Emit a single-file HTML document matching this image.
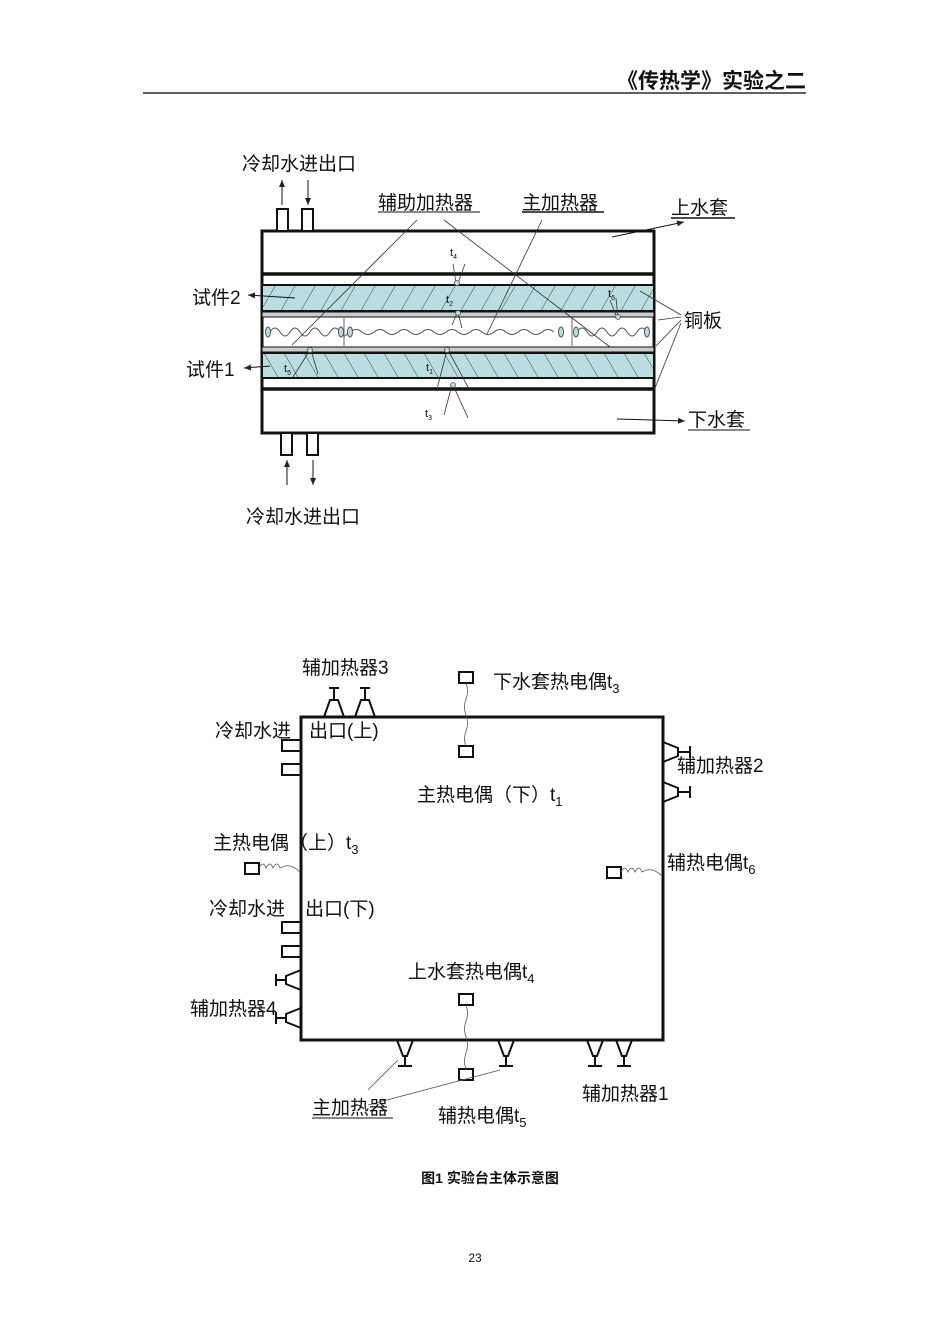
<!DOCTYPE html>
<html><head><meta charset="utf-8"><style>
body{margin:0;background:#fff;}
svg{display:block;}
text{font-family:"Liberation Sans","Noto Sans CJK SC",sans-serif;fill:#111;}
</style></head><body>
<svg width="950" height="1344" viewBox="0 0 950 1344" xmlns="http://www.w3.org/2000/svg">
<defs>
<pattern id="h1" patternUnits="userSpaceOnUse" width="20" height="30" patternTransform="skewX(-30)">
<rect width="20" height="30" fill="#b9dde0"/><line x1="0" y1="0" x2="0" y2="30" stroke="#333" stroke-width="1"/></pattern>
<pattern id="h2" patternUnits="userSpaceOnUse" width="20" height="30" patternTransform="skewX(30)">
<rect width="20" height="30" fill="#b9dde0"/><line x1="0" y1="0" x2="0" y2="30" stroke="#333" stroke-width="1"/></pattern>
<marker id="ar" markerWidth="8" markerHeight="8" refX="7" refY="4" orient="auto"><path d="M0,1 L7,4 L0,7 z" fill="#222"/></marker>
</defs>
<!-- header -->
<text x="806" y="88" font-size="21" font-weight="bold" text-anchor="end" font-family="Liberation Serif,Noto Serif CJK SC,serif">《传热学》实验之二</text>
<line x1="143" y1="93" x2="806" y2="93" stroke="#000" stroke-width="1.2"/>

<!-- TOP DIAGRAM -->
<g stroke="#111" fill="none">
<rect x="262" y="231" width="392" height="202" stroke-width="3"/>
<line x1="262" y1="274" x2="654" y2="274" stroke-width="3.5"/>
<rect x="262" y="285" width="392" height="26" fill="url(#h1)" stroke-width="2"/>
<rect x="262" y="312" width="392" height="5" fill="#ccc" stroke-width="1"/>
<rect x="262" y="347" width="392" height="5" fill="#ccc" stroke-width="1"/>
<rect x="262" y="353" width="392" height="25" fill="url(#h2)" stroke-width="2"/>
<line x1="262" y1="389" x2="654" y2="389" stroke-width="3.5"/>
<line x1="344" y1="318" x2="344" y2="346" stroke="#666" stroke-width="1"/>
<line x1="572" y1="318" x2="572" y2="346" stroke="#666" stroke-width="1"/>
<!-- heater wires -->
<path d="M270,332 q5,-8 10,0 q5,8 10,0 q5,-8 10,0 q5,8 10,0 q5,-8 10,0 q5,8 10,0 q5,-8 10,0 q5,8 8,0" stroke="#555" stroke-width="1"/>
<path d="M350,332 q6,-5 12,0 q6,5 12,0 q6,-5 12,0 q6,5 12,0 q6,-5 12,0 q6,5 12,0 q6,-5 12,0 q6,5 12,0 q6,-5 12,0 q6,5 12,0 q6,-5 12,0 q6,5 12,0 q6,-5 12,0 q6,5 12,0 q6,-5 12,0 q6,5 12,0 q6,-5 12,0" stroke="#555" stroke-width="1"/>
<path d="M577,332 q5,-8 10,0 q5,8 10,0 q5,-8 10,0 q5,8 10,0 q5,-8 10,0 q5,8 10,0 q5,-8 10,0" stroke="#555" stroke-width="1"/>
<g fill="#b9dde0" stroke="#555" stroke-width="1">
<ellipse cx="268" cy="332" rx="2.5" ry="5"/><ellipse cx="341" cy="332" rx="2.5" ry="5"/>
<ellipse cx="350" cy="332" rx="2.5" ry="5"/><ellipse cx="561" cy="332" rx="2.5" ry="5"/>
<ellipse cx="576" cy="332" rx="2.5" ry="5"/><ellipse cx="647" cy="332" rx="2.5" ry="5"/>
</g>
<!-- pipes top -->
<rect x="277" y="209" width="11" height="22" stroke-width="2" fill="#fff"/>
<rect x="302" y="209" width="11" height="22" stroke-width="2" fill="#fff"/>
<rect x="281" y="433" width="11" height="22" stroke-width="2" fill="#fff"/>
<rect x="307" y="433" width="11" height="22" stroke-width="2" fill="#fff"/>
<g stroke-width="1" marker-end="url(#ar)">
<line x1="282" y1="205" x2="282" y2="180"/>
<line x1="308" y1="180" x2="308" y2="205"/>
<line x1="287" y1="485" x2="287" y2="460"/>
<line x1="313" y1="460" x2="313" y2="485"/>
<line x1="295" y1="298" x2="248" y2="295"/>
<line x1="270" y1="366" x2="244" y2="368"/>
<line x1="612" y1="237" x2="684" y2="222"/>
<line x1="617" y1="419" x2="685" y2="421"/>
</g>
<!-- leader lines -->
<g stroke="#333" stroke-width="0.8">
<line x1="417" y1="220" x2="292" y2="345"/>
<line x1="444" y1="220" x2="610" y2="347"/>
<line x1="542" y1="220" x2="487" y2="334"/>
<line x1="681" y1="315" x2="640" y2="291"/>
<line x1="681" y1="317" x2="658" y2="320"/>
<line x1="681" y1="320" x2="656" y2="346"/>
<line x1="681" y1="323" x2="655" y2="388"/>
<line x1="453" y1="264" x2="456" y2="283"/><line x1="465" y1="264" x2="458" y2="283"/>
<line x1="452" y1="325" x2="457" y2="313"/><line x1="462" y1="328" x2="458" y2="313"/>
<line x1="610" y1="300" x2="617" y2="318"/><line x1="616" y1="298" x2="618" y2="318"/>
<line x1="293" y1="377" x2="310" y2="350"/><line x1="318" y1="374" x2="311" y2="350"/>
<line x1="437" y1="389" x2="447" y2="350"/><line x1="468" y1="387" x2="448" y2="350"/>
<line x1="444" y1="415" x2="452" y2="385"/><line x1="468" y1="418" x2="453" y2="385"/>
</g>
<g fill="#b9dde0" stroke="#555" stroke-width="0.8">
<circle cx="457" cy="283" r="2.5"/><circle cx="458" cy="313" r="2.5"/><circle cx="618" cy="317" r="2.5"/>
<circle cx="310" cy="350" r="2.5"/><circle cx="447" cy="350" r="2.5"/><circle cx="453" cy="385" r="2.5"/>
</g>
</g>
<g font-size="19">
<text x="242" y="170">冷却水进出口</text>
<text x="378" y="209">辅助加热器</text>
<line x1="378" y1="212" x2="480" y2="212" stroke="#111" stroke-width="1"/>
<text x="522" y="209">主加热器</text>
<line x1="522" y1="212" x2="604" y2="212" stroke="#111" stroke-width="1.5"/>
<text x="671" y="214">上水套</text>
<line x1="671" y1="218" x2="735" y2="218" stroke="#111" stroke-width="1.5"/>
<text x="684" y="327">铜板</text>
<text x="192" y="304">试件2</text>
<text x="186" y="376">试件1</text>
<text x="688" y="426">下水套</text>
<line x1="688" y1="430" x2="750" y2="430" stroke="#111" stroke-width="1"/>
<text x="246" y="523">冷却水进出口</text>
</g>
<g font-size="11" fill="#333">
<text x="450" y="256">t<tspan font-size="7" dy="3">4</tspan></text>
<text x="446" y="303">t<tspan font-size="7" dy="3">2</tspan></text>
<text x="608" y="297">t<tspan font-size="7" dy="3">6</tspan></text>
<text x="284" y="372">t<tspan font-size="7" dy="3">5</tspan></text>
<text x="426" y="371">t<tspan font-size="7" dy="3">1</tspan></text>
<text x="425" y="417">t<tspan font-size="7" dy="3">3</tspan></text>
</g>

<!-- BOTTOM DIAGRAM -->
<g stroke="#111" fill="none" stroke-width="2">
<rect x="301" y="717" width="362" height="323" stroke-width="3"/>
<!-- heater 3 -->
<path d="M324,717 L330,700 L338,700 L344,717 M334,700 V688 M329,688 H339"/>
<path d="M355,717 L361,700 L369,700 L375,717 M365,700 V688 M360,688 H370"/>
<!-- heater 2 right -->
<path d="M663,742 L678,748 L678,756 L663,762 M678,752 H690 M690,746 V758"/>
<path d="M663,782 L678,788 L678,796 L663,802 M678,792 H690 M690,786 V798"/>
<!-- heater 4 left -->
<path d="M301,970 L286,976 L286,984 L301,990 M286,980 H276 M276,974 V986"/>
<path d="M301,1008 L286,1014 L286,1022 L301,1028 M286,1018 H276 M276,1012 V1024"/>
<!-- bottom heaters -->
<path d="M397,1040 L403,1056 L407,1056 L413,1040 M405,1056 V1066 M398,1066 H412"/>
<path d="M498,1040 L504,1056 L508,1056 L514,1040 M506,1056 V1066 M499,1066 H513"/>
<path d="M587,1040 L593,1056 L597,1056 L603,1040 M595,1056 V1066 M588,1066 H602"/>
<path d="M616,1040 L622,1056 L626,1056 L632,1040 M624,1056 V1066 M617,1066 H631"/>
<!-- pipes left -->
<rect x="282" y="740" width="19" height="11"/><rect x="282" y="764" width="19" height="11"/>
<rect x="282" y="922" width="19" height="11"/><rect x="282" y="946" width="19" height="11"/>
<!-- thermocouple boxes -->
<rect x="459" y="672" width="14" height="11"/>
<rect x="459" y="746" width="14" height="11"/>
<rect x="459" y="994" width="14" height="11"/>
<rect x="459" y="1069" width="14" height="11"/>
<rect x="245" y="863" width="14" height="11"/>
<rect x="607" y="867" width="14" height="11"/>
</g>
<g stroke="#555" stroke-width="0.8" fill="none">
<path d="M466,683 q3,8 0,16 q-3,8 0,16 q3,8 0,16 q-3,8 0,15"/>
<path d="M466,1005 q3,8 0,16 q-3,8 0,16 q3,8 0,16 q-3,8 0,16"/>
<path d="M259,868 q4,-8 7,0 q4,-8 7,0 q4,-8 7,0 q10,-6 20,4"/>
<path d="M621,872 q4,-8 7,0 q4,-8 7,0 q4,-8 7,0 q10,-6 20,4"/>
<line x1="368" y1="1090" x2="398" y2="1060"/>
<line x1="368" y1="1105" x2="500" y2="1070"/>
</g>
<g font-size="19">
<text x="302" y="674">辅加热器3</text>
<text x="493" y="688">下水套热电偶t<tspan font-size="13" dy="5">3</tspan></text>
<text x="215" y="737">冷却水进</text>
<text x="309" y="737">出口(上)</text>
<text x="677" y="772">辅加热器2</text>
<text x="417" y="801">主热电偶（下）t<tspan font-size="13" dy="5">1</tspan></text>
<text x="213" y="849">主热电偶（上）t<tspan font-size="13" dy="5">3</tspan></text>
<text x="667" y="869">辅热电偶t<tspan font-size="13" dy="5">6</tspan></text>
<text x="209" y="915">冷却水进</text>
<text x="305" y="915">出口(下)</text>
<text x="408" y="978">上水套热电偶t<tspan font-size="13" dy="5">4</tspan></text>
<text x="190" y="1015">辅加热器4</text>
<text x="582" y="1100">辅加热器1</text>
<text x="312" y="1114">主加热器</text>
<line x1="312" y1="1118" x2="393" y2="1118" stroke="#111" stroke-width="1"/>
<text x="438" y="1122">辅热电偶t<tspan font-size="13" dy="5">5</tspan></text>
</g>
<text x="490" y="1183" font-size="14" font-weight="bold" text-anchor="middle" font-family="Liberation Serif,Noto Serif CJK SC,serif">图1  实验台主体示意图</text>
<text x="475" y="1262" font-size="12" text-anchor="middle" font-family="Liberation Serif,serif">23</text>
</svg>
</body></html>
